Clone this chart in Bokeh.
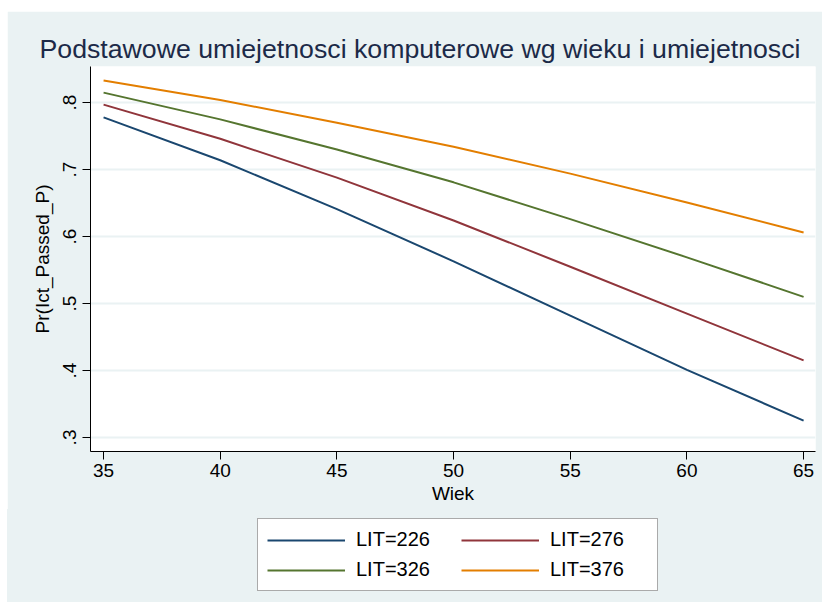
from bokeh.plotting import figure
from bokeh.models import (ColumnDataSource, Legend, LegendItem, FixedTicker,
                          CustomJSTickFormatter, Title, Spacer)
from bokeh.layouts import column, row
from bokeh.embed import file_html
from bokeh.resources import INLINE

# ---- data ----
wiek = [35, 40, 45, 50, 55, 60, 65]
lit_226 = [0.778, 0.714, 0.641, 0.563, 0.482, 0.401, 0.325]
lit_276 = [0.797, 0.746, 0.688, 0.624, 0.555, 0.485, 0.415]
lit_326 = [0.815, 0.775, 0.730, 0.681, 0.626, 0.569, 0.510]
lit_376 = [0.833, 0.804, 0.770, 0.734, 0.694, 0.651, 0.606]
series_labels = ["LIT=226", "LIT=276", "LIT=326", "LIT=376"]
x_ticks = [35, 40, 45, 50, 55, 60, 65]
y_ticks = [0.3, 0.4, 0.5, 0.6, 0.7, 0.8]

colors = ["#1a476f", "#90353b", "#55752f", "#e37e00"]
BG = "#eaf2f3"
FONT = "Liberation Sans"
W = 815

src = ColumnDataSource(dict(x=wiek, a=lit_226, b=lit_276, c=lit_326, d=lit_376))
keys = ["a", "b", "c", "d"]

p = figure(width=W, height=498, output_backend="svg", toolbar_location=None,
           x_range=(34.44, 65.51), y_range=(0.279, 0.854),
           background_fill_color="white", border_fill_color=BG,
           min_border_left=83, min_border_right=7, min_border_top=55,
           min_border_bottom=58)
p.outline_line_color = None

for key, col in zip(keys, colors):
    p.line("x", key, source=src, line_color=col, line_width=2)

# title
t = Title(text="Podstawowe umiejetnosci komputerowe wg wieku i umiejetnosci",
          align="left", offset=-51, text_font=FONT, text_font_size="26.7px",
          text_font_style="normal", text_color="#1c2a48", standoff=6)
p.add_layout(t, "above")

# axes
for ax in (p.xaxis[0], p.yaxis[0]):
    ax.axis_line_color = "black"
    ax.axis_line_width = 1
    ax.major_tick_line_color = "black"
    ax.minor_tick_line_color = None
    ax.major_tick_out = 8
    ax.major_tick_in = 0
    ax.major_label_text_font = FONT
    ax.major_label_text_font_size = "19px"
    ax.major_label_text_color = "black"
    ax.axis_label_text_font = FONT
    ax.axis_label_text_font_size = "19px"
    ax.axis_label_text_font_style = "normal"
    ax.axis_label_text_color = "black"

p.xaxis.ticker = FixedTicker(ticks=x_ticks)
p.xaxis.axis_label = "Wiek"
p.xaxis.major_label_standoff = 4
p.xaxis.axis_label_standoff = 3

p.yaxis.ticker = FixedTicker(ticks=y_ticks)
p.yaxis.formatter = CustomJSTickFormatter(code="return tick.toFixed(1).replace(/^0/, '');")
p.yaxis.major_label_orientation = "vertical"
p.yaxis.axis_label = "Pr(Ict_Passed_P)"
p.yaxis.major_label_standoff = 6
p.yaxis.axis_label_standoff = 8

p.xgrid.grid_line_color = None
p.ygrid.grid_line_color = BG
p.ygrid.grid_line_width = 2

# legend strip below the chart (its lines lie outside its view; only the legend shows)
lg = figure(width=W, height=93, output_backend="svg", toolbar_location=None,
            x_range=(1000, 1001), y_range=(1000, 1001),
            x_axis_location=None, y_axis_location=None,
            background_fill_color=None, border_fill_color=None,
            min_border=0, min_border_left=0, min_border_right=0,
            min_border_top=0, min_border_bottom=0,
            styles={"background-color": BG})
lg.grid.visible = False
lg.outline_line_color = None
items = []
for lab, key, col in zip(series_labels, keys, colors):
    r = lg.line("x", key, source=src, line_color=col, line_width=2)
    items.append(LegendItem(label=lab, renderers=[r]))

legend = Legend(items=items, ncols=2, location=(167, 11), orientation="horizontal",
                label_text_font=FONT, label_text_font_size="20px",
                label_text_color="black", glyph_width=78, glyph_height=22,
                label_height=22, label_width=98, label_standoff=11,
                spacing=7, padding=9, margin=0,
                border_line_color="#555555", border_line_width=1,
                background_fill_color="white", background_fill_alpha=1)
lg.add_layout(legend, "center")

layout = row(Spacer(width=7, height=11),
             column(Spacer(height=11, width=W), p, lg, spacing=0),
             spacing=0)

open("out.html", "w").write(file_html(layout, INLINE))
